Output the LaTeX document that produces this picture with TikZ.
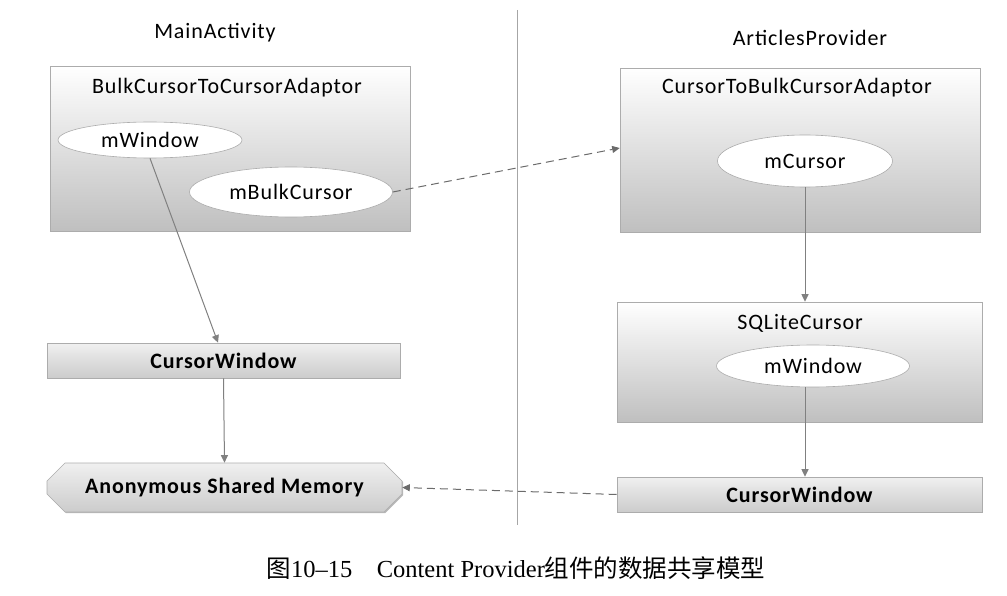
\documentclass[tikz,border=0pt]{standalone}
\usepackage{fontspec}
\setmainfont{Carlito}[LetterSpace=4.0]
\newfontfamily\cjk{Noto Sans CJK SC}
\newfontfamily\capserif{Liberation Serif}
\usetikzlibrary{shapes.geometric,shapes.misc,arrows.meta,shadows}
\begin{document}
\begin{tikzpicture}[x=1pt,y=-1pt,
  every node/.style={inner sep=0pt},
  lbl/.style={font=\fontsize{22}{25}\selectfont},
  blbl/.style={font=\fontsize{22}{25}\selectfont\bfseries},
  bigbox/.style={draw=gray!65, line width=0.6pt, top color=white, middle color=gray!14, bottom color=gray!50,
     drop shadow={shadow xshift=1.2pt, shadow yshift=-1.2pt, fill=gray!70, opacity=0.8}},
  barbox/.style={draw=gray!65, line width=0.6pt, top color=gray!12, bottom color=gray!40,
     drop shadow={shadow xshift=1.2pt, shadow yshift=-1.2pt, fill=gray!70, opacity=0.8}},
  oval/.style={ellipse, draw=gray!65, line width=0.6pt, fill=white, lbl},
  arr/.style={draw=black!50, line width=1pt, -{Triangle[length=7.5pt,width=7pt]}},
  darr/.style={arr, draw=black!58, dash pattern=on 8pt off 5pt},
]
\useasboundingbox (0,0) rectangle (1007,596);

% headers
\node[lbl] (hma) at (215,33) {MainActivity};
\node[lbl] (hap) at (810,38) {ArticlesProvider};
\coordinate (dtop) at (517,10);
\coordinate (dbot) at (517,525);
\draw[gray!70, line width=0.7pt] (dtop) -- (dbot);

% left big box
\node[bigbox, minimum width=360pt, minimum height=165pt] (lbox) at (230,148.5) {};
\node[lbl] (lboxt) at (227,88) {BulkCursorToCursorAdaptor};
\node[oval, minimum width=184pt, minimum height=36pt] (mw1) at (150,140) {mWindow};
\node[oval, minimum width=203pt, minimum height=50pt] (mbc) at (291,192) {mBulkCursor};

% right big box
\node[bigbox, minimum width=360pt, minimum height=164pt] (rbox) at (800,150) {};
\node[lbl] (rboxt) at (797,88) {CursorToBulkCursorAdaptor};
\node[oval, minimum width=175pt, minimum height=52pt] (mc) at (805,161) {mCursor};

% SQLiteCursor box
\node[bigbox, minimum width=365pt, minimum height=120pt] (sq) at (799.5,362) {};
\node[lbl] (sqt) at (800,323) {SQLiteCursor};
\node[oval, minimum width=193pt, minimum height=42pt] (mw2) at (813,366) {mWindow};

% right CursorWindow
\node[barbox, minimum width=365pt, minimum height=35pt, blbl] (rcw) at (799.5,494.5) {CursorWindow};

% left CursorWindow
\node[barbox, minimum width=353pt, minimum height=35pt, blbl] (lcw) at (223.5,360.5) {CursorWindow};

% Anonymous Shared Memory
\node[barbox, chamfered rectangle, chamfered rectangle xsep=9pt, chamfered rectangle ysep=9pt,
      minimum width=355pt, minimum height=49pt, blbl] (asm) at (224.5,487.5) {Anonymous Shared Memory};

% connectors
\draw[arr] (mw1.south) -- (lcw.north -| 218,0);
\draw[arr] (lcw.south) -- (asm.north);
\draw[darr] (mbc.east) -- ([yshift=2pt]rbox.west);
\draw[arr] (mc.south) -- (mc.south |- sq.north);
\draw[arr] (mc.south |- mw2.south) -- (mc.south |- rcw.north);
\draw[darr] (rcw.west) -- (asm.east);

% caption
\node[font=\fontsize{24.5}{28}\selectfont] (cap) at (516,568) {{\cjk 图}{\capserif 10–15\hspace{1em}Content Provider}{\cjk 组件的数据共享模型}};
\end{tikzpicture}
\end{document}
